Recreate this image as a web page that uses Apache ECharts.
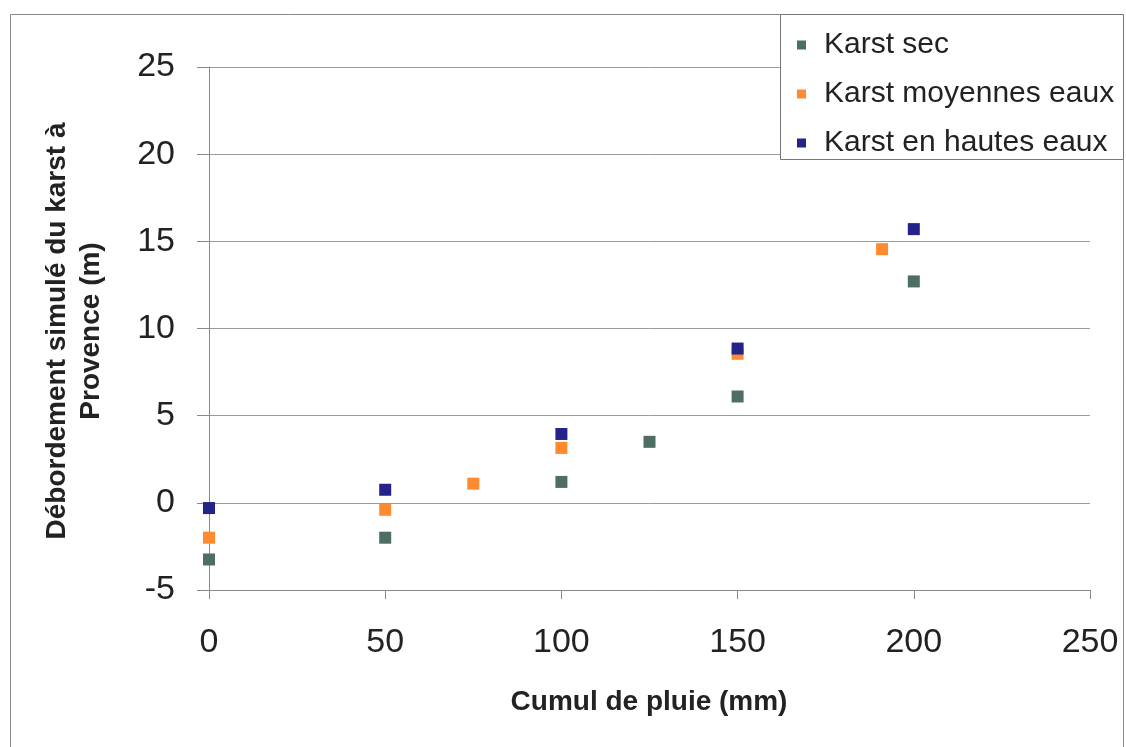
<!DOCTYPE html>
<html>
<head>
<meta charset="utf-8">
<script src="https://cdn.jsdelivr.net/npm/echarts@6/dist/echarts.min.js"></script>
<style>
html,body{margin:0;padding:0;background:#fff;}
#chart{width:1126px;height:747px;}
</style>
</head>
<body>
<div id="chart"></div>
<script>
// Data
const seriesNames = ['Karst sec', 'Karst moyennes eaux', 'Karst en hautes eaux'];
const karstSec = [[0, -3.25], [50, -2.0], [100, 1.2], [125, 3.5], [150, 6.1], [200, 12.7]];
const karstMoyennes = [[0, -2.0], [50, -0.4], [75, 1.1], [100, 3.15], [150, 8.55], [191, 14.55]];
const karstHautes = [[0, -0.3], [50, 0.75], [100, 3.95], [150, 8.85], [200, 15.7]];
const xTitle = 'Cumul de pluie (mm)';
const yTitleLines = ['Débordement simulé du karst à', 'Provence (m)'];
const colors = ['#4d6e60', '#ff8a30', '#23238a'];

const FONT = '"Liberation Sans", Arial, sans-serif';
const chart = echarts.init(document.getElementById('chart'));

const seriesData = [karstSec, karstMoyennes, karstHautes];

chart.setOption({
  animation: false,
  backgroundColor: '#fff',
  grid: { left: 209, right: 36, top: 67, bottom: 157, containLabel: false },
  xAxis: {
    type: 'value', min: 0, max: 250, interval: 50,
    axisLine: { show: true, onZero: false, lineStyle: { color: '#8a8a8a', width: 1 } },
    axisTick: { show: true, inside: false, length: 9, lineStyle: { color: '#8a8a8a' } },
    axisLabel: { color: '#222', fontSize: 34, fontFamily: FONT, margin: 36 },
    splitLine: { show: false }
  },
  yAxis: {
    type: 'value', min: -5, max: 25, interval: 5,
    axisLine: { show: true, onZero: false, lineStyle: { color: '#8a8a8a', width: 1 } },
    axisTick: { show: true, inside: false, length: 12, lineStyle: { color: '#8a8a8a' } },
    axisLabel: { color: '#222', fontSize: 34, fontFamily: FONT, margin: 34 },
    splitLine: { show: true, lineStyle: { color: '#9a9a9a', width: 1 } }
  },
  legend: {
    orient: 'vertical', left: 792, top: 23, z: 10,
    itemWidth: 9, itemHeight: 9, itemGap: 15, icon: 'rect',
    data: seriesNames,
    itemStyle: { opacity: 1 },
    textStyle: { fontSize: 30, fontFamily: FONT, color: '#222', lineHeight: 34, padding: [0, 0, 0, 13] }
  },
  graphic: [
    { type: 'rect', z: 0, silent: true, shape: { x: 10.5, y: 14.5, width: 1113, height: 800 },
      style: { fill: 'none', stroke: '#8a8a8a', lineWidth: 1 } },
    { type: 'rect', z: 5, silent: true, shape: { x: 780.5, y: 14.5, width: 343, height: 145 },
      style: { fill: '#fff', stroke: '#777', lineWidth: 1 } },
    { type: 'text', z: 5, x: 57, y: 331, rotation: Math.PI / 2,
      style: { text: yTitleLines[0], font: 'bold 28px ' + FONT, fill: '#222',
        textAlign: 'center', textVerticalAlign: 'middle', align: 'center', verticalAlign: 'middle' } },
    { type: 'text', z: 5, x: 91, y: 331, rotation: Math.PI / 2,
      style: { text: yTitleLines[1], font: 'bold 28px ' + FONT, fill: '#222',
        textAlign: 'center', textVerticalAlign: 'middle', align: 'center', verticalAlign: 'middle' } },
    { type: 'text', z: 5, x: 649, y: 702,
      style: { text: xTitle, font: 'bold 28px ' + FONT, fill: '#222',
        textAlign: 'center', textVerticalAlign: 'middle', align: 'center', verticalAlign: 'middle' } }
  ],
  series: seriesNames.map((name, i) => ({
    name: name,
    type: 'scatter',
    symbol: 'rect',
    symbolSize: 12,
    itemStyle: { color: colors[i], opacity: 1 },
    data: seriesData[i],
    z: 2 + i
  }))
});
</script>
</body>
</html>
